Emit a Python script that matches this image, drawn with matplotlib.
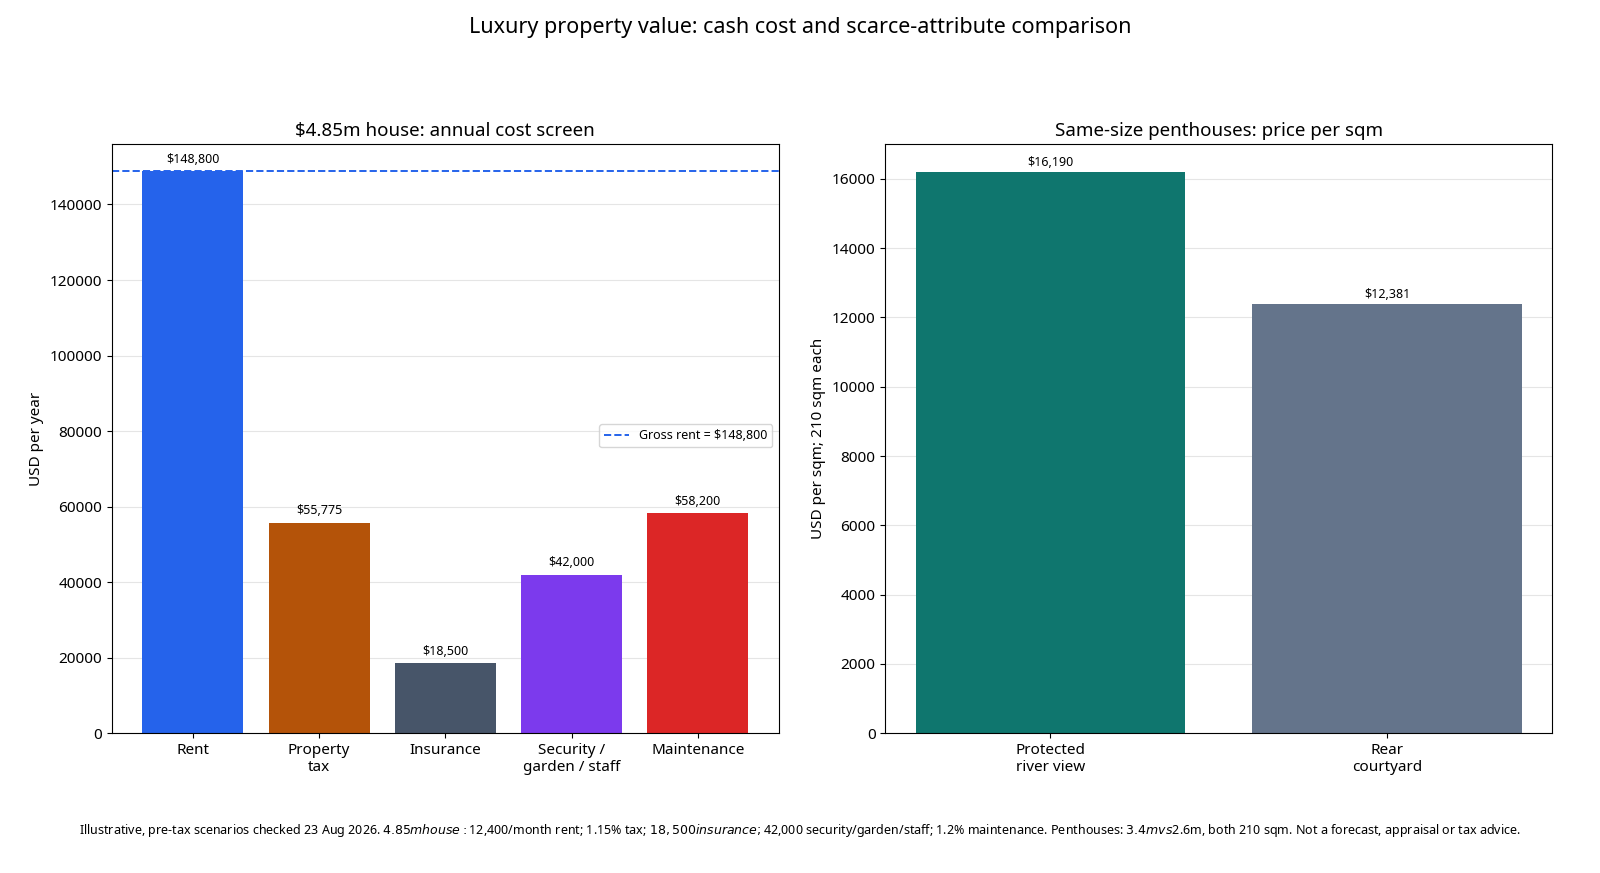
import matplotlib
matplotlib.use("Agg")
import matplotlib.pyplot as plt

plt.rcParams['font.family'] = ['Noto Sans', 'DejaVu Sans']

cost_labels = ["Rent", "Property\ntax", "Insurance", "Security /\ngarden / staff", "Maintenance"]
cost_values = [148800, 55775, 18500, 42000, 58200]
cost_colors = ["#2563eb", "#b45309", "#475569", "#7c3aed", "#dc2626"]

pent_labels = ["Protected\nriver view", "Rear\ncourtyard"]
pent_values = [16190, 12381]
pent_colors = ["#0f766e", "#64748b"]

gross_rent = 148800

footnote = ("Illustrative, pre-tax scenarios checked 23 Aug 2026. $4.85m house: $12,400/month rent; "
            "1.15% tax; $18,500 insurance; $42,000 security/garden/staff; 1.2% maintenance. "
            "Penthouses: $3.4m vs $2.6m, both 210 sqm. Not a forecast, appraisal or tax advice.")

fig, (ax1, ax2) = plt.subplots(1, 2, figsize=(16, 8.73), dpi=100)
fig.subplots_adjust(left=0.07, right=0.97, top=0.835, bottom=0.16, wspace=0.16)

bars = ax1.bar(cost_labels, cost_values, color=cost_colors, width=0.8, zorder=2)
for b, v in zip(bars, cost_values):
    ax1.text(b.get_x() + b.get_width() / 2, v + 1500, f"${v:,}", ha="center", va="bottom", fontsize=9)
ax1.axhline(gross_rent, color="#2563eb", linestyle="--", linewidth=1.4, label=f"Gross rent = ${gross_rent:,}")
ax1.set_ylim(0, 156000)
ax1.set_ylabel("USD per year", fontsize=11)
ax1.set_title("$4.85m house: annual cost screen".replace("$", r"\$"), fontsize=13.5)
ax1.grid(axis="y", color="#e5e5e5", linewidth=0.8, zorder=0)
ax1.legend(loc="center right", bbox_to_anchor=(1.0, 0.505), fontsize=9)
ax1.tick_params(axis="both", labelsize=11)

bars2 = ax2.bar(pent_labels, pent_values, color=pent_colors, width=0.8, zorder=2)
for b, v in zip(bars2, pent_values):
    ax2.text(b.get_x() + b.get_width() / 2, v + 80, f"${v:,}", ha="center", va="bottom", fontsize=9)
ax2.set_ylim(0, 17000)
ax2.set_ylabel("USD per sqm; 210 sqm each", fontsize=11)
ax2.set_title("Same-size penthouses: price per sqm", fontsize=13.5)
ax2.grid(axis="y", color="#e5e5e5", linewidth=0.8, zorder=0)
ax2.tick_params(axis="both", labelsize=11)

fig.suptitle("Luxury property value: cash cost and scarce-attribute comparison", fontsize=15.5, y=0.98)
fig.text(0.5, 0.045, footnote, ha="center", fontsize=9)

fig.savefig("out.png", dpi=100)
